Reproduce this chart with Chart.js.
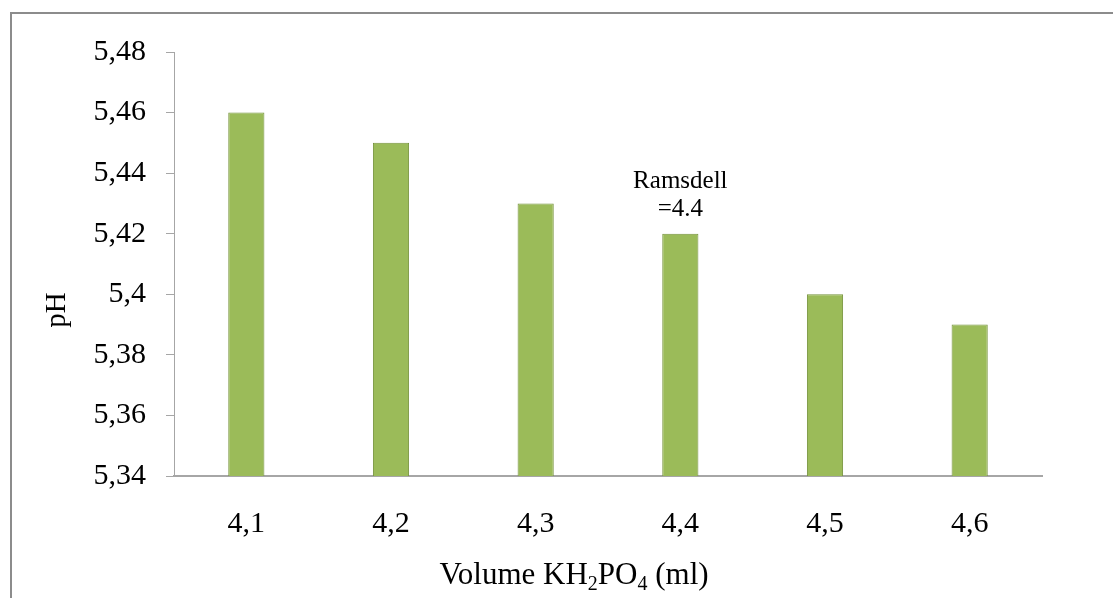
<!DOCTYPE html>
<html>
<head>
<meta charset="utf-8">
<script src="https://cdn.jsdelivr.net/npm/chart.js@4/dist/chart.umd.min.js"></script>
<style>
  html, body { margin: 0; padding: 0; background: #ffffff; }
  #wrap { position: relative; width: 1113px; height: 598px; overflow: hidden; }
  #frame { position: absolute; left: 10px; top: 12px; width: 1200px; height: 700px;
           border-top: 2px solid #8c8c8c; border-left: 2px solid #8c8c8c; box-sizing: border-box; }
  canvas { position: absolute; left: 0; top: 0; }
</style>
</head>
<body>
<div id="wrap">
  <div id="frame"></div>
  <canvas id="chart" width="1113" height="598"></canvas>
</div>
<script>
// Volume of KH2PO4 added (ml) and the resulting pH
const volumes = ['4,1', '4,2', '4,3', '4,4', '4,5', '4,6'];
const phValues = [5.46, 5.45, 5.43, 5.42, 5.40, 5.39];
const yTickValues = [5.34, 5.36, 5.38, 5.40, 5.42, 5.44, 5.46, 5.48];
const yTickLabels = ['5,34', '5,36', '5,38', '5,4', '5,42', '5,44', '5,46', '5,48'];
const noteLines = ['Ramsdell', '=4.4'];
const noteIndex = 3;

const serif = '"Liberation Serif", "Times New Roman", serif';

// Axis titles (x title has subscripts) and the Ramsdell note
const extras = {
  id: 'extras',
  afterDraw(chart) {
    const ctx = chart.ctx;
    ctx.save();
    ctx.fillStyle = '#000';

    // y title "pH"
    ctx.save();
    ctx.translate(57, 310);
    ctx.rotate(-Math.PI / 2);
    ctx.font = '29px ' + serif;
    ctx.textAlign = 'center';
    ctx.textBaseline = 'middle';
    ctx.fillText('pH', 0, 0);
    ctx.restore();

    // x title "Volume KH2PO4 (ml)"
    const parts = [
      { t: 'Volume KH', sub: false }, { t: '2', sub: true },
      { t: 'PO', sub: false }, { t: '4', sub: true }, { t: ' (ml)', sub: false }
    ];
    const big = '31px ' + serif, small = '20px ' + serif;
    let total = 0;
    parts.forEach(p => { ctx.font = p.sub ? small : big; p.w = ctx.measureText(p.t).width; total += p.w; });
    let x = 574 - total / 2;
    const base = 584;
    ctx.textAlign = 'left';
    ctx.textBaseline = 'alphabetic';
    parts.forEach(p => {
      ctx.font = p.sub ? small : big;
      ctx.fillText(p.t, x, p.sub ? base + 6 : base);
      x += p.w;
    });

    // note above the 4,4 bar
    const meta = chart.getDatasetMeta(0);
    const bar = meta.data[noteIndex];
    ctx.font = '25px ' + serif;
    ctx.textAlign = 'center';
    ctx.textBaseline = 'middle';
    ctx.fillText(noteLines[0], bar.x, bar.y - 52);
    ctx.fillText(noteLines[1], bar.x, bar.y - 24);
    ctx.restore();
  }
};

new Chart(document.getElementById('chart'), {
  type: 'bar',
  data: {
    labels: volumes,
    datasets: [{
      data: phValues,
      backgroundColor: '#9bbb59',
      borderColor: '#76933c',
      borderWidth: 1,
      borderSkipped: 'bottom',
      categoryPercentage: 1,
      barPercentage: 0.25
    }]
  },
  options: {
    responsive: false,
    animation: false,
    devicePixelRatio: 1,
    layout: { padding: { left: 0, top: 52, right: 71, bottom: 0 } },
    plugins: { legend: { display: false }, tooltip: { enabled: false } },
    scales: {
      x: {
        afterFit(s) { s.height = 122; },
        grid: { display: true, drawOnChartArea: false, drawTicks: false, color: '#a6a6a6' },
        border: { display: true, color: '#a6a6a6', width: 2 },
        ticks: { color: '#000', font: { family: serif, size: 30 }, padding: 30 }
      },
      y: {
        min: 5.34,
        max: 5.48,
        afterFit(s) { s.width = 174; },
        afterBuildTicks(s) { s.ticks = yTickValues.map(v => ({ value: v })); },
        grid: { display: true, drawOnChartArea: false, drawTicks: true, tickLength: 8, color: '#a6a6a6' },
        border: { display: true, color: '#a6a6a6', width: 1 },
        ticks: {
          color: '#000',
          font: { family: serif, size: 30 },
          padding: 20,
          callback(v, i) { return yTickLabels[i]; }
        }
      }
    }
  },
  plugins: [extras]
});
</script>
</body>
</html>
